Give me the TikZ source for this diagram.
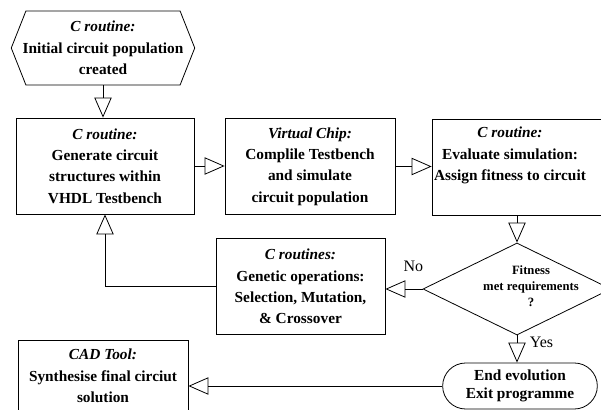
\documentclass[tikz,border=0pt]{standalone}
\usepackage{fontspec}
\setmainfont{Liberation Serif}
\usetikzlibrary{arrows.meta,shapes.geometric,shapes.misc}

\begin{document}
\begin{tikzpicture}[
    x=0.75pt, y=-0.75pt,
    line width=0.6pt,
    flow/.style={
      draw,
      align=center,
      inner sep=0pt,
      font=\fontsize{11.5}{16}\selectfont\bfseries
    },
    block/.style={
      flow,
      rectangle,
      minimum height=72pt
    },
    link/.style={
      -{Triangle[open, length=15pt, width=13pt]}
    },
    answer/.style={
      font=\fontsize{12}{14}\selectfont
    }
  ]

  \useasboundingbox (0, 0) rectangle (601, 410);

  % start: hexagon drawn round the node
  \node[flow, draw=none, minimum width=137pt, minimum height=55pt] (init)
    at (103, 48) {\textit{C routine:}\\Initial circuit population\\created};
  \draw ([xshift=11pt]init.north west) -- ([xshift=-11pt]init.north east)
    -- (init.east) -- ([xshift=-11pt]init.south east)
    -- ([xshift=11pt]init.south west) -- (init.west) -- cycle;

  \node[block, minimum width=133.5pt] (gen) at (105, 166)
    {\textit{C routine:}\\Generate circuit\\structures within\\VHDL Testbench};
  \node[block, minimum width=127.5pt] (chip) at (310, 166.5)
    {\textit{Virtual Chip:}\\Complile Testbench\\and simulate\\circuit population};
  \node[block, minimum width=142.5pt] (eval) at (527, 167) {};
  \node[flow, draw=none] (evalTxt) at (510, 155.5)
    {\textit{C routine:}\\Evaluate simulation:\\Assign fitness to circuit};

  \node[draw, diamond, minimum width=141pt, minimum height=69pt,
    inner sep=0pt] (fit) at (517, 289) {};
  \node[align=center, font=\fontsize{9.5}{12}\selectfont\bfseries]
    (fitTxt) at (531, 286) {Fitness\\met requirements\\?};

  \node[block, minimum width=126.75pt] (ops) at (300.5, 286.5)
    {\textit{C routines:}\\Genetic operations:\\Selection, Mutation,\\\& Crossover};

  \node[flow, rounded rectangle, minimum width=116pt, minimum height=34.5pt,
    font=\fontsize{11.5}{13.5}\selectfont\bfseries] (stop) at (520, 386)
    {End evolution\\Exit programme};

  \node[block, minimum width=127.5pt, minimum height=54pt] (cad) at (103, 376)
    {\textit{CAD Tool:}\\Synthesise final circiut\\solution};

  \draw[link] (init.south) -- (init.south |- gen.north);
  \draw[link] (gen.east) -- (gen.east -| chip.west);
  \draw[link] (chip.east) -- (chip.east -| eval.west);
  \draw[link] (fit.north |- eval.south) -- (fit.north);

  \draw[link] (fit.west) -- (fit.west -| ops.east)
    node[answer, pos=0.25, above=9pt] (no) {No};
  \draw[link] (ops.west) -| (gen.south);

  \draw[link] (fit.south) -- (fit.south |- stop.north)
    node[answer, pos=0.25, right=6pt] (yes) {Yes};
  \draw[link] (stop.west) -- (stop.west -| cad.east);

\end{tikzpicture}
\end{document}
